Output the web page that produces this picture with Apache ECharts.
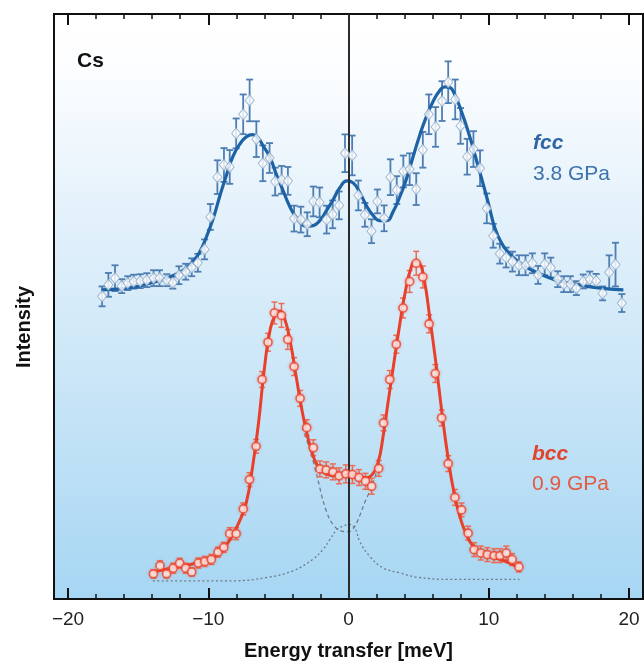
<!DOCTYPE html>
<html><head><meta charset="utf-8">
<script src="https://cdn.jsdelivr.net/npm/echarts@6/dist/echarts.min.js"></script>
<style>html,body{margin:0;padding:0;background:#fff}#c{width:644px;height:666px}</style>
</head><body><div id="c"></div>
<script>
// ---- axis ticks ----
const majorTicks = [-20, -10, 0, 10, 20];
const minorTicks = [-20, -18, -16, -14, -12, -10, -8, -6, -4, -2, 0, 2, 4, 6, 8, 10, 12, 14, 16, 18, 20];

// ---- fcc (3.8 GPa) data: energy [meV], intensity [arb.], error ----
const fccX = [-17.57,-17.12,-16.65,-16.17,-15.74,-15.32,-14.85,-14.38,-13.90,-13.48,-12.96,-12.53,-12.09,-11.61,-11.18,-10.74,-10.26,-9.85,-9.35,-8.88,-8.47,-8.01,-7.51,-7.05,-6.57,-6.11,-5.63,-5.23,-4.77,-4.32,-3.88,-3.40,-2.94,-2.51,-2.06,-1.56,-1.13,-0.67,-0.25,0.26,0.70,1.17,1.64,2.06,2.54,2.99,3.44,3.91,4.36,4.83,5.30,5.73,6.21,6.67,7.11,7.61,7.99,8.46,8.91,9.38,9.86,10.32,10.79,11.24,11.69,12.16,12.62,13.11,13.52,13.99,14.42,14.92,15.35,15.82,16.25,16.74,17.20,17.66,18.12,18.59,19.04,19.49];
const fccY = [304.7,316.3,323,315,318,319.5,320,321,323,323,321,318.5,326,329.5,334,338.5,352,384.7,424.7,437,435,468.8,488,502,463,438.7,444,420.3,422,421,383,382,377.3,400.3,399.3,382,387.3,396.3,448.8,446.6,406.3,386.8,370.3,400.3,383.3,424.7,411.7,430.5,432.7,412.7,452.3,488,475.3,501.3,520.3,503,476.3,445.3,453,433.7,393.3,365.7,347.7,343.8,339.7,336,336,338,326.3,337,333.7,322,317,317,313,319.7,321.7,320.3,307.7,329,336.7,298];
const fccErr = [10,12,13,7,7,7,7,7,8,8,6,6,9,8,9,9,10,13,17,17,17,15,20,21,18,18,15,14,14,14,13,13,12,15,15,14,14,14,19,20,15,12,12,12,13,18,14,16,16,16,18,20,20,20,21,20,18,18,18,18,15,12,10,10,10,10,10,10,9,11,10,8,8,8,7,7,8,7,7,17,22,9];

// ---- bcc (0.9 GPa) data ----
const bccX = [-13.91,-13.44,-12.97,-12.50,-12.04,-11.61,-11.18,-10.71,-10.25,-9.78,-9.30,-8.89,-8.47,-8.01,-7.50,-7.06,-6.59,-6.16,-5.74,-5.28,-4.78,-4.33,-3.88,-3.45,-2.98,-2.51,-2.04,-1.59,-1.11,-0.67,-0.19,0.28,0.75,1.21,1.65,2.15,2.50,2.94,3.41,3.89,4.36,4.83,5.30,5.75,6.19,6.64,7.11,7.59,8.06,8.53,8.96,9.43,9.90,10.38,10.80,11.25,11.67,12.15];
const bccY = [25.3,33.5,25.3,31,36,31,27.2,36.2,37.8,39.8,47.2,52,65.8,65.8,90.7,120.2,153.7,221,258.5,288,285.5,261.3,234,202,172.5,152.3,131,130,128,124,126,125.3,122.3,118.5,113.5,131.5,177.3,221,256.5,293,319.7,338,324.2,277,227,182.3,136.3,102.3,89.7,66.3,49.7,46.3,44.7,43.7,43.7,46.3,39.7,32.3];
const bccErr = [4,5,4,5,5,5,4,5,5,5,5,5,6,6,6,7,7,8,9,11,12,10,9,8,8,8,8,8,8,8,9,9,8,8,8,8,8,9,9,10,11,12,11,9,9,8,8,8,7,7,7,7,7,7,7,7,6,5];

// ---- fitted curves ----
const fccFitX = [-17.61,-15.35,-14.16,-12.97,-12.02,-11.55,-11.08,-10.60,-10.12,-9.65,-9.17,-8.70,-8.23,-7.75,-7.27,-6.84,-6.44,-6.09,-5.61,-5.13,-4.66,-4.18,-3.71,-2.99,-2.52,-2.05,-1.57,-1.10,-0.62,-0.12,0.33,0.81,1.28,1.75,2.23,2.71,3.18,3.66,4.13,4.60,5.08,5.56,6.03,6.51,6.86,7.22,7.60,8.05,8.55,9.00,9.50,9.98,10.45,10.93,11.40,12.07,12.83,13.63,14.73,15.77,17.11,18.27,19.60];
const fccFitY = [311.3,313.7,318,323,329,333.5,340,349.7,365,383,406,427,446,458,465.5,467.5,464,456.3,445,427,411,395,384,375.5,376,381,391,402,414,421,419,409,396,386.3,381,381,390,405,423,445,467,486,501,512,515.7,515,507,491,470,448,423,398,373,358,349,340,333,327.5,321.3,318,314.7,312.5,311.3];
const bccFitX = [-13.95,-13.38,-11.96,-10.54,-9.83,-9.12,-8.40,-7.69,-7.27,-6.84,-6.41,-5.99,-5.56,-5.14,-4.92,-4.57,-4.14,-3.72,-3.29,-2.87,-2.44,-2.01,-1.59,-1.02,-0.45,0.11,0.68,1.25,1.67,2.10,2.46,2.82,3.24,3.67,4.10,4.45,4.74,5.02,5.38,5.80,6.23,6.66,7.09,7.51,7.94,8.37,8.79,9.36,10.07,10.78,11.49,12.20];
const bccFitY = [27,29,33,37,40,47,61,81,98,133,178,233,273,288,290,283,258,223,188,161,141,130,126,124,125,125.5,124,122,125,137,163,198,238,278,313,333,340,339,323,283,238,188,143,108,83,66,55,48,43,40,36,31];
// components of the bcc fit: two inelastic peaks (dashed) and central line + background (dotted)
const peaksX = [-3.3,-2.75,-2.23,-1.80,-1.33,-0.85,-0.40,0,0.40,0.75,1.04,1.64,2.10,2.50];
const peaksY = [173,150,123,98,80,71,68,67.5,72,82,93,113,133,165];
const centralX = [-13.95,-8.2,-5.8,-3.96,-2.54,-1.83,-1.33,-0.83,-0.30,0.10,0.50,0.80,1.51,2.46,3.65,4.84,7.21,12.19];
const centralY = [18.3,18.3,21.7,28.3,40,49.7,59.7,69.7,74,75,70,58,43,31.3,26.3,22,19.7,19.7];

const zip = (a, b) => a.map((v, i) => [v, b[i]]);
const zip3 = (a, b, c) => a.map((v, i) => [v, b[i], c[i]]);

function errBars(color, cap, lw) {
  return function (params, api) {
    const x = api.value(0), y = api.value(1), e = api.value(2);
    const lo = api.coord([x, y - e]), hi = api.coord([x, y + e]);
    const st = { stroke: color, lineWidth: lw };
    return { type: 'group', children: [
      { type: 'line', shape: { x1: lo[0], y1: lo[1], x2: hi[0], y2: hi[1] }, style: st },
      { type: 'line', shape: { x1: lo[0] - cap, y1: lo[1], x2: lo[0] + cap, y2: lo[1] }, style: st },
      { type: 'line', shape: { x1: hi[0] - cap, y1: hi[1], x2: hi[0] + cap, y2: hi[1] }, style: st }
    ]};
  };
}

const FONT = '"Liberation Sans", Arial, Helvetica, sans-serif';
const minus = v => String(v).replace('-', '\u2212');

const baseX = {
  type: 'value', min: -21, max: 21,
  axisLine: { show: true, lineStyle: { color: '#111', width: 2 } },
  splitLine: { show: false },
};
const chart = echarts.init(document.getElementById('c'));
chart.setOption({
  animation: false,
  grid: {
    left: 54, right: 1, top: 14, bottom: 63, show: true,
    borderColor: '#111', borderWidth: 2,
    backgroundColor: new echarts.graphic.LinearGradient(0, 0, 0, 1, [
      { offset: 0, color: '#ffffff' },
      { offset: 0.08, color: '#fdfeff' },
      { offset: 0.35, color: '#e3f1fb' },
      { offset: 0.65, color: '#c8e5f7' },
      { offset: 1, color: '#a6d6f3' }
    ])
  },
  xAxis: [
    Object.assign({}, baseX, { position: 'bottom',
      axisTick: { show: true, inside: true, length: 11, customValues: majorTicks, lineStyle: { color: '#111', width: 2 } },
      axisLabel: { show: true, customValues: majorTicks, formatter: minus, margin: 11, fontSize: 19, color: '#222', fontFamily: FONT },
      name: 'Energy transfer [meV]', nameLocation: 'middle', nameGap: 42,
      nameTextStyle: { fontSize: 20, fontWeight: 'bold', color: '#111', fontFamily: FONT } }),
    Object.assign({}, baseX, { position: 'bottom',
      axisTick: { show: true, inside: true, length: 5, customValues: minorTicks, lineStyle: { color: '#111', width: 1.5 } },
      axisLabel: { show: false } }),
    Object.assign({}, baseX, { position: 'top',
      axisTick: { show: true, inside: true, length: 11, customValues: majorTicks, lineStyle: { color: '#111', width: 2 } },
      axisLabel: { show: false } }),
    Object.assign({}, baseX, { position: 'top',
      axisTick: { show: true, inside: true, length: 5, customValues: minorTicks, lineStyle: { color: '#111', width: 1.5 } },
      axisLabel: { show: false } })
  ],
  yAxis: { type: 'value', min: 0, max: 589, show: false },
  graphic: [
    { type: 'text', x: 77, y: 61, style: { text: 'Cs', font: 'bold 21px ' + FONT, fill: '#111', textAlign: 'left', textVerticalAlign: 'middle' } },
    { type: 'text', x: 24, y: 327, rotation: Math.PI / 2, style: { text: 'Intensity', font: 'bold 20px ' + FONT, fill: '#111', textAlign: 'center', textVerticalAlign: 'middle' } },
    { type: 'text', x: 533, y: 143, style: { text: 'fcc', font: 'italic bold 21px ' + FONT, fill: '#2f66a3', textAlign: 'left', textVerticalAlign: 'middle' } },
    { type: 'text', x: 533, y: 174, style: { text: '3.8 GPa', font: '21px ' + FONT, fill: '#3d72ab', textAlign: 'left', textVerticalAlign: 'middle' } },
    { type: 'text', x: 532, y: 454, style: { text: 'bcc', font: 'italic bold 21px ' + FONT, fill: '#e2432c', textAlign: 'left', textVerticalAlign: 'middle' } },
    { type: 'text', x: 532, y: 484, style: { text: '0.9 GPa', font: '21px ' + FONT, fill: '#e45a42', textAlign: 'left', textVerticalAlign: 'middle' } }
  ],
  series: [
    { type: 'line', data: zip(centralX, centralY), smooth: 0.4, symbol: 'none', silent: true,
      lineStyle: { color: '#6d7c88', width: 1.3, type: [2, 2.5] }, z: 2 },
    { type: 'line', data: zip(peaksX, peaksY), smooth: 0.3, symbol: 'none', silent: true,
      lineStyle: { color: '#6d7c88', width: 1.3, type: [4, 3] }, z: 2 },
    { type: 'custom', renderItem: errBars('#4d7db1', 3.5, 1.8), data: zip3(fccX, fccY, fccErr), z: 3 },
    { type: 'line', data: zip(fccFitX, fccFitY), smooth: 0.5, symbol: 'none',
      lineStyle: { color: '#1c62a5', width: 3.2 }, z: 4 },
    { type: 'scatter', data: zip(fccX, fccY), symbol: 'diamond', symbolSize: [9, 11],
      itemStyle: { color: '#ffffff', borderColor: '#8ea9c6', borderWidth: 1 }, z: 5 },
    { type: 'custom', renderItem: errBars('#ec6d55', 3, 1.5), data: zip3(bccX, bccY, bccErr), z: 3 },
    { type: 'line', data: zip(bccFitX, bccFitY), smooth: 0.5, symbol: 'none',
      lineStyle: { color: '#e8402a', width: 3 }, z: 4 },
    { type: 'scatter', data: zip(bccX, bccY), symbol: 'circle', symbolSize: 8,
      itemStyle: { color: '#ffffff', borderColor: '#e8452f', borderWidth: 1.6, shadowBlur: 3, shadowColor: 'rgba(232,69,47,0.5)' }, z: 5 },
    { type: 'line', data: [], z: 10, silent: true,
      markLine: { silent: true, symbol: 'none', label: { show: false }, animation: false,
        lineStyle: { color: '#2b2b2b', width: 2, type: 'solid' }, data: [{ xAxis: 0 }] } }
  ]
});
</script>
</body></html>
